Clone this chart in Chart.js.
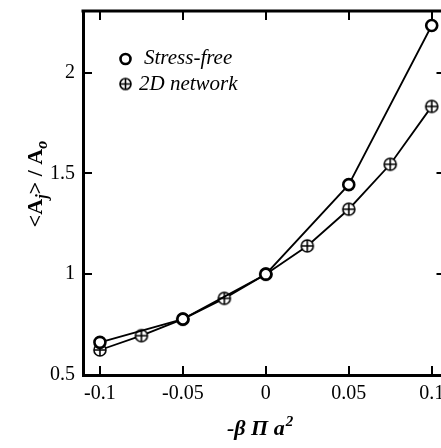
<!DOCTYPE html>
<html>
<head>
<meta charset="utf-8">
<script src="https://cdn.jsdelivr.net/npm/chart.js@4.4.1/dist/chart.umd.min.js"></script>
<style>
  html, body { margin: 0; padding: 0; background: #fff; overflow: hidden; }
  canvas { display: block; }
</style>
</head>
<body>
<canvas id="myChart" width="441" height="448"></canvas>
<script>
// data
const STRESS_FREE_X = [-0.1, -0.05, 0, 0.05, 0.1];
const STRESS_FREE_Y = [0.662, 0.777, 1.0, 1.444, 2.233];
const NETWORK_X = [-0.1, -0.075, -0.05, -0.025, 0, 0.025, 0.05, 0.075, 0.1];
const NETWORK_Y = [0.624, 0.695, 0.777, 0.88, 1.0, 1.14, 1.322, 1.545, 1.832];
const X_TICKS = [-0.1, -0.05, 0, 0.05, 0.1];
const X_LABELS = ["-0.1", "-0.05", "0", "0.05", "0.1"];
const Y_TICKS = [0.5, 1, 1.5, 2];
const Y_LABELS = ["0.5", "1", "1.5", "2"];
const LEGEND = ["Stress-free", "2D network"];

const SERIF = "'Liberation Serif', 'DejaVu Serif', serif";

// circle with a cross, used for the 2D network points
function makeCrossCircle(r, lw) {
    const c = document.createElement("canvas");
    const s = Math.ceil(r * 2 + lw + 2);
    c.width = s;
    c.height = s;
    const g = c.getContext("2d");
    const m = s / 2;
    g.fillStyle = "#fff";
    g.strokeStyle = "#000";
    g.lineWidth = lw;
    g.beginPath();
    g.arc(m, m, r, 0, Math.PI * 2);
    g.fill();
    g.stroke();
    g.beginPath();
    g.moveTo(m - r, m);
    g.lineTo(m + r, m);
    g.moveTo(m, m - r);
    g.lineTo(m, m + r);
    g.stroke();
    return c;
}
const crossCircle = makeCrossCircle(6, 1.6);
const legendCross = makeCrossCircle(5.5, 1.6);

function toPoints(xs, ys) {
    return xs.map((x, i) => ({ x: x, y: ys[i] }));
}

// frame extras, inward ticks, legend and axis titles
const decorations = {
    id: "decorations",
    afterDraw(chart) {
        const ctx = chart.ctx;
        const a = chart.chartArea;
        const xs = chart.scales.x;
        const ys = chart.scales.y;
        ctx.save();
        ctx.strokeStyle = "#000";

        // top frame line
        ctx.lineWidth = 3;
        ctx.beginPath();
        ctx.moveTo(a.left - 1.5, a.top);
        ctx.lineTo(chart.width, a.top);
        ctx.stroke();

        // inward ticks
        ctx.lineWidth = 2;
        ctx.beginPath();
        X_TICKS.forEach(v => {
            const px = Math.round(xs.getPixelForValue(v));
            ctx.moveTo(px, a.bottom);
            ctx.lineTo(px, a.bottom - 9);
            ctx.moveTo(px, a.top);
            ctx.lineTo(px, a.top + 9);
        });
        Y_TICKS.forEach(v => {
            const py = Math.round(ys.getPixelForValue(v));
            ctx.moveTo(a.left, py);
            ctx.lineTo(a.left + 9, py);
            ctx.moveTo(chart.width, py);
            ctx.lineTo(chart.width - 4.5, py);
        });
        ctx.stroke();

        // legend
        ctx.fillStyle = "#fff";
        ctx.lineWidth = 2.6;
        ctx.beginPath();
        ctx.arc(125.5, 59, 5, 0, Math.PI * 2);
        ctx.fill();
        ctx.stroke();
        ctx.drawImage(legendCross, 125.5 - legendCross.width / 2, 84 - legendCross.height / 2);
        ctx.fillStyle = "#000";
        ctx.font = "italic 21px " + SERIF;
        ctx.textAlign = "left";
        ctx.textBaseline = "alphabetic";
        ctx.fillText(LEGEND[0], 144, 64);
        ctx.fillText(LEGEND[1], 139, 90);

        // x axis title: -β Π a²
        ctx.font = "bold italic 22px " + SERIF;
        let x = 227;
        const base = 435;
        const main = "-\u03B2 \u03A0 a";
        ctx.fillText(main, x, base);
        x += ctx.measureText(main).width + 1;
        ctx.font = "bold italic 15px " + SERIF;
        ctx.fillText("2", x, base - 9);

        // y axis title: <A_j> / A_0, rotated
        ctx.translate(42, 184);
        ctx.rotate(-Math.PI / 2);
        const segs = [
            { t: "<A", f: "bold 22px " + SERIF, dy: 0 },
            { t: "j", f: "bold italic 16px " + SERIF, dy: 5 },
            { t: "> / A", f: "bold 22px " + SERIF, dy: 0 },
            { t: "o", f: "bold italic 16px " + SERIF, dy: 5 }
        ];
        let total = 0;
        segs.forEach(s => { ctx.font = s.f; total += ctx.measureText(s.t).width; });
        let cx = -total / 2;
        segs.forEach(s => {
            ctx.font = s.f;
            ctx.fillText(s.t, cx, s.dy);
            cx += ctx.measureText(s.t).width;
        });
        ctx.restore();
    }
};

const config = {
    type: "line",
    data: {
        datasets: [
            {
                label: LEGEND[0],
                data: toPoints(STRESS_FREE_X, STRESS_FREE_Y),
                borderColor: "#000",
                borderWidth: 1.8,
                pointStyle: "circle",
                pointRadius: 5.5,
                pointBorderWidth: 2.6,
                pointBackgroundColor: "#fff",
                pointBorderColor: "#000",
                tension: 0,
            },
            {
                label: LEGEND[1],
                data: toPoints(NETWORK_X, NETWORK_Y),
                borderColor: "#000",
                borderWidth: 1.8,
                pointStyle: crossCircle,
                pointRadius: 6,
                tension: 0,
            },
        ],
    },
    options: {
        responsive: false,
        animation: false,
        clip: false,
        layout: { autoPadding: false, padding: { top: 11, right: 0, left: 0, bottom: 0 } },
        plugins: {
            legend: { display: false },
            tooltip: { enabled: false },
        },
        scales: {
            x: {
                type: "linear",
                min: -0.1102,
                max: 0.1056,
                grid: { display: false, drawTicks: false },
                border: { display: true, color: "#000", width: 3 },
                afterBuildTicks: s => { s.ticks = X_TICKS.map(v => ({ value: v })); },
                afterFit: s => { s.height = 73; s.paddingLeft = 0; s.paddingRight = 0; },
                ticks: {
                    color: "#000",
                    font: { family: SERIF, size: 20 },
                    padding: 7,
                    maxRotation: 0,
                    autoSkip: false,
                    callback: (v, i) => X_LABELS[i],
                },
            },
            y: {
                type: "linear",
                min: 0.5,
                max: 2.305,
                grid: { display: false, drawTicks: false },
                border: { display: true, color: "#000", width: 3 },
                afterBuildTicks: s => { s.ticks = Y_TICKS.map(v => ({ value: v })); },
                afterFit: s => { s.width = 83; s.paddingTop = 0; s.paddingBottom = 0; },
                ticks: {
                    color: "#000",
                    font: { family: SERIF, size: 20 },
                    padding: 8,
                    autoSkip: false,
                    callback: (v, i) => Y_LABELS[i],
                },
            },
        },
    },
    plugins: [decorations],
};

var ctx = document.getElementById("myChart").getContext("2d");
var myChart = new Chart(ctx, config);
</script>
</body>
</html>
